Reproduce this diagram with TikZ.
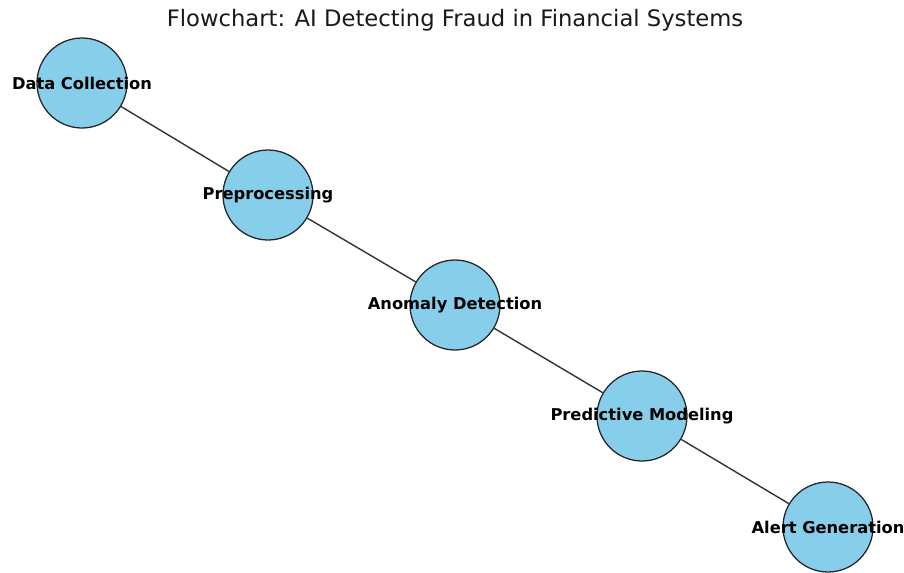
\documentclass[tikz,border=0pt]{standalone}
\usepackage{fontspec}
\setmainfont{DejaVu Sans}
\begin{document}
\begin{tikzpicture}[x=0.75pt,y=-0.75pt,
  stage/.style={circle,draw=black!85,line width=0.95pt,fill=skyblue,minimum size=67.5pt,inner sep=0pt},
  label/.style={font=\fontsize{12.2}{14}\selectfont\bfseries,text=black},
  link/.style={draw=black!80,line width=1.05pt}]
\definecolor{skyblue}{HTML}{87CEEB}
\useasboundingbox (0,0) rectangle (904,572);
\node[font=\fontsize{17}{20}\selectfont,text=black!90] (title) at (455,20) {Flowchart: AI Detecting Fraud in Financial Systems};
% stage circles
\node[stage] (dc) at (82,83) {};
\node[stage] (pp) at (268,195) {};
\node[stage] (ad) at (455,305) {};
\node[stage] (pm) at (642,416) {};
\node[stage] (ag) at (828,527) {};
% connectors between consecutive stages
\draw[link] (dc) -- (pp);
\draw[link] (pp) -- (ad);
\draw[link] (ad) -- (pm);
\draw[link] (pm) -- (ag);
% labels on top of the circles
\node[label] (ldc) at (dc) {Data Collection};
\node[label] (lpp) at (pp) {Preprocessing};
\node[label] (lad) at (ad) {Anomaly Detection};
\node[label] (lpm) at (pm) {Predictive Modeling};
\node[label] (lag) at (ag) {Alert Generation};
\end{tikzpicture}
\end{document}
